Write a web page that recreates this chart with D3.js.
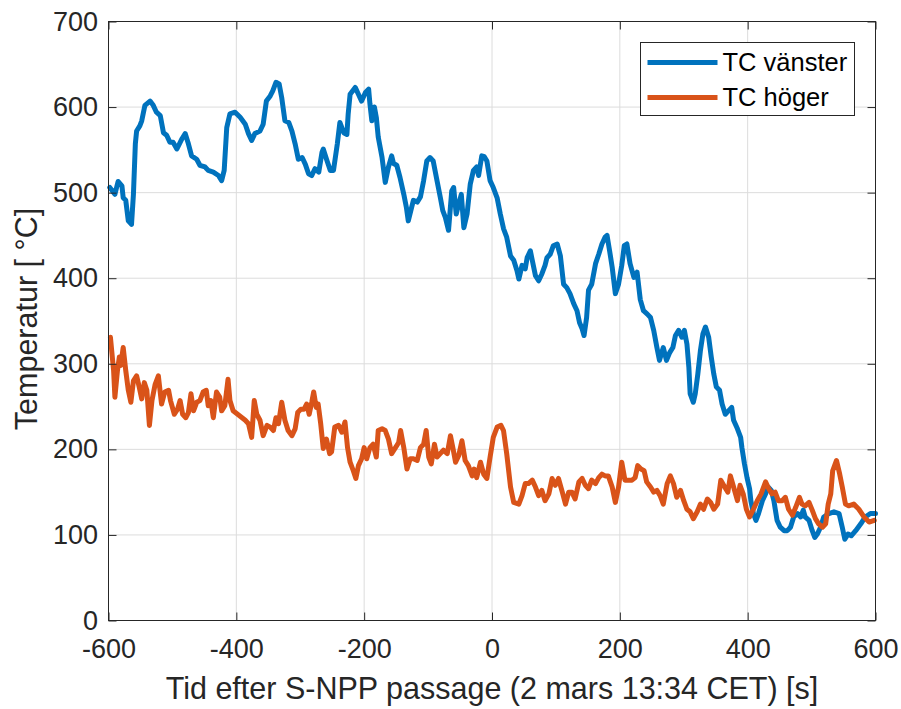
<!DOCTYPE html>
<html>
<head>
<meta charset="utf-8">
<script src="https://cdn.jsdelivr.net/npm/d3@7"></script>
<style>
  html, body { margin: 0; padding: 0; background: #fff; }
  svg { display: block; font-family: "Liberation Sans", Arial, Helvetica, sans-serif; }
</style>
</head>
<body>
<svg id="chart" width="901" height="709"></svg>
<script>
// Tid (s) och temperatur (°C) för vänster termoelement
const tVanster = [-598,-590,-585,-579,-577,-573,-569,-564,-561,-558,-556,-551,-548,-543,-535,-530,-525,-519,-514,-509,-504,-499,-493,-485,-480,-475,-470,-462,-457,-449,-444,-436,-428,-423,-419,-415,-410,-402,-394,-386,-381,-376,-371,-363,-358,-353,-347,-343,-338,-333,-329,-324,-318,-313,-308,-303,-297,-292,-287,-282,-277,-271,-266,-264,-258,-253,-248,-242,-238,-232,-227,-225,-222,-214,-209,-204,-198,-193,-191,-188,-184,-181,-178,-172,-167,-162,-157,-154,-149,-144,-138,-134,-131,-127,-123,-117,-112,-107,-102,-97,-92,-86,-81,-77,-73,-68,-63,-60,-56,-52,-48,-44,-39,-34,-29,-24,-21,-16,-12,-8,-3,2,8,13,18,23,29,34,39,42,47,52,55,60,63,68,73,78,83,86,91,96,102,107,112,117,122,128,133,137,141,144,148,151,156,162,167,172,177,180,184,188,193,198,203,207,211,216,222,227,232,237,243,248,253,258,262,268,273,278,283,287,292,297,301,305,308,310,315,318,322,326,330,334,339,343,347,351,356,360,365,370,375,378,384,389,391,395,399,403,405,409,413,417,423,428,432,437,441,446,451,457,462,467,472,478,483,487,490,496,501,505,509,514,519,527,535,543,548,552,557,562,569,577,584,592,600];
const vanster = [506,498,513,508,494,491,467,463,498,557,572,578,584,602,607,602,594,590,570,567,559,559,551,563,569,557,543,539,532,530,526,524,520,514,526,576,592,594,588,580,569,561,569,572,580,607,613,619,629,627,611,584,582,572,557,539,541,533,522,520,528,524,547,551,537,526,526,557,582,570,568,592,615,623,615,607,617,621,604,584,600,588,565,541,512,530,543,534,532,518,498,483,467,479,491,489,495,514,537,541,537,514,495,479,471,456,502,506,475,487,498,459,475,510,526,530,520,543,542,537,514,506,494,475,458,448,426,421,409,399,415,411,424,432,421,403,397,405,415,424,428,438,440,426,393,389,382,370,362,348,341,333,354,386,393,417,428,440,448,450,432,413,382,393,415,438,440,417,401,407,375,362,358,354,339,319,304,319,304,313,319,333,339,331,339,323,296,265,255,265,288,315,335,343,331,308,288,273,269,253,241,245,249,234,224,214,202,183,167,154,140,125,117,125,140,148,156,152,140,117,109,105,105,109,121,125,121,129,121,117,105,97,101,109,121,125,127,125,109,95,101,99,105,113,121,125,125];

// Tid (s) och temperatur (°C) för höger termoelement
const tHoger = [-597,-592,-590,-586,-583,-581,-577,-573,-569,-565,-561,-556,-552,-548,-544,-540,-536,-532,-527,-522,-517,-512,-506,-503,-497,-492,-488,-484,-479,-475,-471,-467,-462,-457,-452,-447,-444,-440,-436,-431,-426,-423,-418,-413,-410,-405,-398,-391,-386,-381,-376,-372,-368,-363,-358,-352,-347,-342,-338,-334,-329,-324,-319,-313,-308,-304,-299,-294,-290,-286,-282,-279,-275,-272,-268,-264,-259,-254,-251,-246,-240,-235,-230,-226,-222,-217,-213,-209,-204,-200,-196,-191,-186,-181,-178,-172,-167,-162,-157,-151,-146,-143,-138,-133,-128,-123,-117,-112,-107,-103,-99,-95,-90,-86,-81,-76,-70,-65,-61,-57,-52,-47,-42,-37,-31,-28,-24,-18,-13,-8,-3,2,8,14,18,23,29,34,42,47,52,57,63,68,73,78,83,89,94,99,104,110,115,120,125,130,136,141,146,151,156,162,167,172,177,182,188,193,198,203,208,213,219,224,228,233,238,242,248,253,258,263,268,274,279,284,289,295,300,305,310,315,321,326,331,337,342,347,353,358,364,369,373,378,384,388,393,398,403,409,415,421,428,433,438,443,448,454,459,464,470,475,481,485,490,496,501,506,511,517,522,526,530,533,539,544,548,553,558,566,574,582,590,598];
const hoger = [331,292,261,292,308,298,319,292,269,255,280,286,273,259,278,269,228,257,276,286,253,267,269,257,241,247,257,241,237,243,265,245,255,257,267,269,251,257,237,267,261,245,251,282,257,245,241,237,234,230,214,257,241,234,216,228,226,222,237,230,255,234,222,216,224,243,247,247,253,241,255,267,249,253,230,201,212,195,197,226,228,220,232,202,185,175,166,181,189,202,189,202,206,191,222,224,222,212,195,202,208,222,202,177,189,189,187,202,206,222,191,183,206,191,195,199,195,216,201,185,193,210,187,181,169,177,167,185,171,166,191,214,226,228,222,195,156,138,136,146,160,160,164,156,146,152,140,148,166,158,166,150,136,150,150,142,162,166,158,154,164,160,167,171,169,169,156,138,156,185,164,164,164,167,181,177,175,162,156,150,152,146,136,160,169,160,144,152,140,130,127,119,127,136,130,142,138,130,136,164,156,150,169,156,140,158,148,130,121,130,140,148,162,154,148,150,140,140,144,130,123,132,144,136,134,138,129,119,113,109,113,136,148,175,187,171,156,136,134,136,130,121,115,117];

const xTicks = [-600, -400, -200, 0, 200, 400, 600];
const yTicks = [0, 100, 200, 300, 400, 500, 600, 700];
const seriesNames = ["TC vänster", "TC höger"];
const seriesColors = ["#0072BD", "#D95319"];

const svg = d3.select("#chart");
const m = { left: 108.5, right: 875.5, top: 21.5, bottom: 620.5 };
const W = m.right - m.left, H = m.bottom - m.top;

const x = d3.scaleLinear().domain([-600, 600]).range([m.left, m.right]);
const y = d3.scaleLinear().domain([0, 700]).range([m.bottom, m.top]);

const axisColor = "#262626";
const tickLen = 8;

// Rutnät
const grid = svg.append("g");
grid.selectAll("line.gx").data(xTicks).join("line")
  .attr("x1", d => x(d)).attr("x2", d => x(d))
  .attr("y1", m.top).attr("y2", m.bottom)
  .attr("stroke", "#dcdcdc").attr("stroke-width", 1);
grid.selectAll("line.gy").data(yTicks).join("line")
  .attr("x1", m.left).attr("x2", m.right)
  .attr("y1", d => y(d)).attr("y2", d => y(d))
  .attr("stroke", "#dcdcdc").attr("stroke-width", 1);

// Kurvor
const plot = svg.append("g");
const line = d3.line().x(d => x(d[0])).y(d => y(d[1]));
const series = [
  d3.zip(tVanster, vanster),
  d3.zip(tHoger, hoger)
];
series.forEach((s, i) => {
  plot.append("path").datum(s)
    .attr("d", line)
    .attr("fill", "none")
    .attr("stroke", seriesColors[i])
    .attr("stroke-width", 5)
    .attr("stroke-linejoin", "round")
    .attr("stroke-linecap", "round");
});

// Axlar med inåtriktade tickmarkeringar på alla sidor
const fontTick = 27;
const fmt = d => String(d);
const xBottom = d3.axisBottom(x).tickValues(xTicks).tickFormat(fmt).tickSizeInner(-tickLen).tickSizeOuter(0).tickPadding(18.5);
const yLeft = d3.axisLeft(y).tickValues(yTicks).tickFormat(fmt).tickSizeInner(-tickLen).tickSizeOuter(0).tickPadding(10.5);
const xTop = d3.axisTop(x).tickValues(xTicks).tickSizeInner(-tickLen).tickSizeOuter(0).tickFormat("");
const yRight = d3.axisRight(y).tickValues(yTicks).tickSizeInner(-tickLen).tickSizeOuter(0).tickFormat("");

function style(g) {
  g.select(".domain").remove();
  g.selectAll(".tick line").attr("stroke", axisColor);
  g.selectAll(".tick text").attr("fill", axisColor).style("font-size", fontTick + "px")
    .style("font-family", "'Liberation Sans', Arial, sans-serif");
}
svg.append("g").attr("transform", `translate(0,${m.bottom})`).call(xBottom).call(style);
svg.append("g").attr("transform", `translate(${m.left},0)`).call(yLeft).call(style);
svg.append("g").attr("transform", `translate(0,${m.top})`).call(xTop).call(style);
svg.append("g").attr("transform", `translate(${m.right},0)`).call(yRight).call(style);

// Ram
svg.append("rect")
  .attr("x", m.left).attr("y", m.top).attr("width", W).attr("height", H)
  .attr("fill", "none").attr("stroke", axisColor).attr("stroke-width", 1);

// Axeltitlar
svg.append("text")
  .attr("x", (m.left + m.right) / 2).attr("y", 699)
  .attr("text-anchor", "middle").attr("fill", axisColor)
  .style("font-size", "30.5px")
  .text("Tid efter S-NPP passage (2 mars 13:34 CET) [s]");
svg.append("text")
  .attr("transform", `translate(37,${(m.top + m.bottom) / 2 - 2}) rotate(-90)`)
  .attr("text-anchor", "middle").attr("fill", axisColor)
  .style("font-size", "30.5px")
  .text("Temperatur [ °C]");

// Förklaring
const lg = svg.append("g").attr("transform", "translate(640.5,42.5)");
lg.append("rect").attr("width", 214).attr("height", 73)
  .attr("fill", "#fff").attr("stroke", axisColor).attr("stroke-width", 1);
seriesNames.forEach((name, i) => {
  const yy = 20 + i * 35;
  lg.append("line").attr("x1", 7).attr("x2", 77).attr("y1", yy).attr("y2", yy)
    .attr("stroke", seriesColors[i]).attr("stroke-width", 5);
  lg.append("text").attr("x", 82).attr("y", yy).attr("dy", "0.35em")
    .attr("fill", "#000").style("font-size", "25.5px").text(name);
});
</script>
</body>
</html>
